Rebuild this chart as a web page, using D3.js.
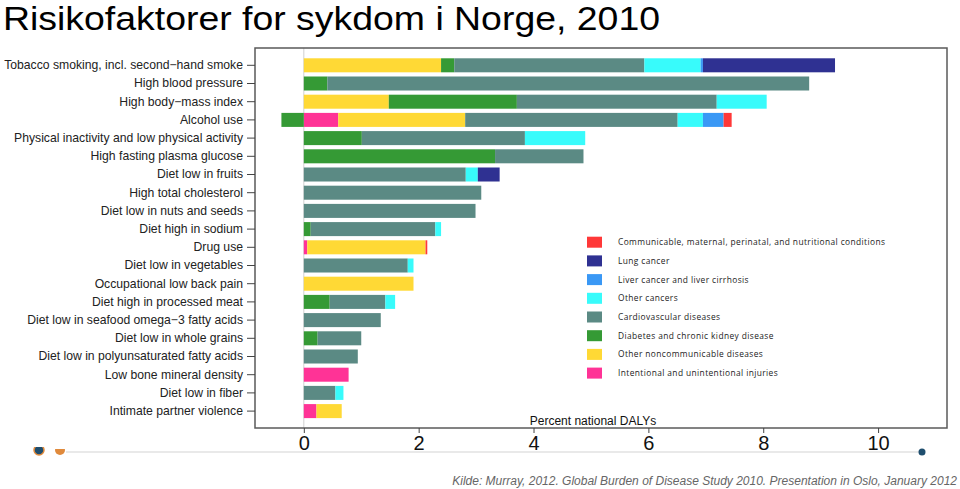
<!DOCTYPE html>
<html>
<head>
<meta charset="utf-8">
<script src="https://cdn.jsdelivr.net/npm/d3@7"></script>
<style>
  html, body { margin: 0; padding: 0; background: #fff; }
  svg { display: block; }
</style>
</head>
<body>
<svg id="chart" width="960" height="489"></svg>
<script>
// ---------- DATA ----------
const categories = [
  "Tobacco smoking, incl. second\u2212hand smoke",
  "High blood pressure",
  "High body\u2212mass index",
  "Alcohol use",
  "Physical inactivity and low physical activity",
  "High fasting plasma glucose",
  "Diet low in fruits",
  "High total cholesterol",
  "Diet low in nuts and seeds",
  "Diet high in sodium",
  "Drug use",
  "Diet low in vegetables",
  "Occupational low back pain",
  "Diet high in processed meat",
  "Diet low in seafood omega\u22123 fatty acids",
  "Diet low in whole grains",
  "Diet low in polyunsaturated fatty acids",
  "Low bone mineral density",
  "Diet low in fiber",
  "Intimate partner violence"
];

// series in stacking order (left to right)
const injuries      = [0,    0,    0,    0.60, 0,    0,    0,    0,    0,    0,    0.06, 0,    0,    0,    0,    0,    0,    0.78, 0,    0.22];
const otherNCD      = [2.39, 0,    1.48, 2.21, 0,    0,    0,    0,    0,    0,    2.06, 0,    1.91, 0,    0,    0,    0,    0,    0,    0.44];
const diabetes      = [0.23, 0.41, 2.23, -0.39,1.01, 3.33, 0,    0,    0,    0.12, 0,    0,    0,    0.45, 0,    0.24, 0,    0,    0,    0];
const cardio        = [3.31, 8.39, 3.48, 3.70, 2.84, 1.54, 2.82, 3.09, 2.99, 2.17, 0,    1.81, 0,    0.97, 1.34, 0.76, 0.94, 0,    0.55, 0];
const otherCancers  = [0.98, 0,    0.87, 0.44, 1.05, 0,    0.21, 0,    0,    0.10, 0,    0.10, 0,    0.17, 0,    0,    0,    0,    0.14, 0];
const liver         = [0.04, 0,    0,    0.36, 0,    0,    0,    0,    0,    0,    0,    0,    0,    0,    0,    0,    0,    0,    0,    0];
const lungCancer    = [2.30, 0,    0,    0,    0,    0,    0.38, 0,    0,    0,    0,    0,    0,    0,    0,    0,    0,    0,    0,    0];
const communicable  = [0,    0,    0,    0.14, 0,    0,    0,    0,    0,    0,    0.03, 0,    0,    0,    0,    0,    0,    0,    0,    0];

const seriesKeys = ["injuries","otherNCD","diabetes","cardio","otherCancers","liver","lungCancer","communicable"];
const seriesData = {injuries, otherNCD, diabetes, cardio, otherCancers, liver, lungCancer, communicable};

// legend (top to bottom)
const legendKeys = ["communicable","lungCancer","liver","otherCancers","cardio","diabetes","otherNCD","injuries"];
const legendLabels = {
  communicable: "Communicable, maternal, perinatal, and nutritional conditions",
  lungCancer: "Lung cancer",
  liver: "Liver cancer and liver cirrhosis",
  otherCancers: "Other cancers",
  cardio: "Cardiovascular diseases",
  diabetes: "Diabetes and chronic kidney disease",
  otherNCD: "Other noncommunicable diseases",
  injuries: "Intentional and unintentional injuries"
};
const colors = {
  communicable: "#ff3838",
  lungCancer: "#2f3192",
  liver: "#3a98f5",
  otherCancers: "#38fbfb",
  cardio: "#5b8a84",
  diabetes: "#359a35",
  otherNCD: "#ffd935",
  injuries: "#ff3396"
};

const xTicks = [0, 2, 4, 6, 8, 10];
const titleText = "Risikofaktorer for sykdom i Norge, 2010";
const xLabel = "Percent national DALYs";
const sourceText = "Kilde: Murray, 2012. Global Burden of Disease Study 2010. Presentation in Oslo, January 2012";

// ---------- CHART ----------
const svg = d3.select("#chart");
const frame = {left: 255, right: 947, top: 48, bottom: 428};

const x = d3.scaleLinear().domain([-0.85, 11.2]).range([frame.left, frame.right]);
const y = d3.scaleBand().domain(categories).range([56.2, 420.2]).paddingInner(0.23).paddingOuter(0.115);

const table = categories.map((c, i) => {
  const row = {cat: c};
  seriesKeys.forEach(k => row[k] = seriesData[k][i]);
  return row;
});
const stack = d3.stack().keys(seriesKeys).offset(d3.stackOffsetDiverging);
const stacked = stack(table);

// title
svg.append("text")
  .attr("x", 3).attr("y", 30)
  .attr("font-family", "'Liberation Sans', Arial, sans-serif")
  .attr("font-size", 33)
  .attr("textLength", 657).attr("lengthAdjust", "spacingAndGlyphs")
  .attr("fill", "#000")
  .text(titleText);

// zero gridline
svg.append("line")
  .attr("x1", x(0)).attr("x2", x(0))
  .attr("y1", frame.top).attr("y2", frame.bottom)
  .attr("stroke", "#d0d0d0").attr("stroke-width", 1);

// bars
svg.append("g").selectAll("g")
  .data(stacked).join("g")
  .attr("fill", d => colors[d.key])
  .selectAll("rect")
  .data(d => d.filter(s => s[1] - s[0] !== 0).map(s => ({s, cat: s.data.cat})))
  .join("rect")
  .attr("x", d => x(Math.min(d.s[0], d.s[1])))
  .attr("width", d => Math.abs(x(d.s[1]) - x(d.s[0])))
  .attr("y", d => y(d.cat))
  .attr("height", y.bandwidth());

// frame
svg.append("rect")
  .attr("x", frame.left).attr("y", frame.top)
  .attr("width", frame.right - frame.left).attr("height", frame.bottom - frame.top)
  .attr("fill", "none").attr("stroke", "#5a5a5a").attr("stroke-width", 1.5);

// y axis
const yAxis = svg.append("g")
  .attr("transform", `translate(${frame.left},0)`)
  .call(d3.axisLeft(y).tickSize(8).tickPadding(4));
yAxis.select(".domain").remove();
yAxis.selectAll("line").attr("stroke", "#444");
yAxis.selectAll("text")
  .attr("font-family", "'Liberation Sans', Arial, sans-serif")
  .attr("font-size", 12.2)
  .attr("fill", "#222");

// x axis
const xAxis = svg.append("g")
  .attr("transform", `translate(0,${frame.bottom})`)
  .call(d3.axisBottom(x).tickValues(xTicks).tickFormat(d3.format("d")).tickSize(5).tickPadding(3));
xAxis.select(".domain").remove();
xAxis.selectAll("line").attr("stroke", "#444");
xAxis.selectAll("text")
  .attr("font-family", "'Liberation Sans', Arial, sans-serif")
  .attr("font-size", 20)
  .attr("fill", "#111");

// x label
svg.append("text")
  .attr("x", 593).attr("y", 425)
  .attr("text-anchor", "middle")
  .attr("font-family", "'Liberation Sans', Arial, sans-serif")
  .attr("font-size", 12)
  .attr("fill", "#111")
  .text(xLabel);

// legend
const legend = svg.append("g");
legendKeys.forEach((k, i) => {
  const ly = 236.7 + i * 18.7;
  legend.append("rect")
    .attr("x", 587).attr("y", ly)
    .attr("width", 15).attr("height", 11)
    .attr("fill", colors[k]);
  legend.append("text")
    .attr("x", 618).attr("y", ly + 8.5)
    .attr("font-family", "'Open Sans', 'Noto Sans', sans-serif")
    .attr("font-size", 8.4)
    .attr("letter-spacing", 0.4)
    .attr("fill", "#222")
    .text(legendLabels[k]);
});

// slide decorations
svg.append("line")
  .attr("x1", 66).attr("x2", 920).attr("y1", 452).attr("y2", 452)
  .attr("stroke", "#e2e2e2").attr("stroke-width", 1.5);
svg.append("circle").attr("cx", 39).attr("cy", 450).attr("r", 5)
  .attr("fill", "#1f4e6e").attr("stroke", "#e08a3c").attr("stroke-width", 1.5);
svg.append("circle").attr("cx", 60).attr("cy", 450).attr("r", 5)
  .attr("fill", "#e08a3c");
svg.append("rect").attr("x", 52).attr("y", 443).attr("width", 16).attr("height", 6).attr("fill", "#fff");
svg.append("rect").attr("x", 30).attr("y", 442).attr("width", 18).attr("height", 5).attr("fill", "#fff");
svg.append("circle").attr("cx", 922).attr("cy", 452).attr("r", 3.5)
  .attr("fill", "#1f4e6e");

// source
svg.append("text")
  .attr("x", 957).attr("y", 485)
  .attr("text-anchor", "end")
  .attr("font-family", "'Liberation Sans', Arial, sans-serif")
  .attr("font-style", "italic")
  .attr("font-size", 12)
  .attr("fill", "#666")
  .text(sourceText);
</script>
</body>
</html>
